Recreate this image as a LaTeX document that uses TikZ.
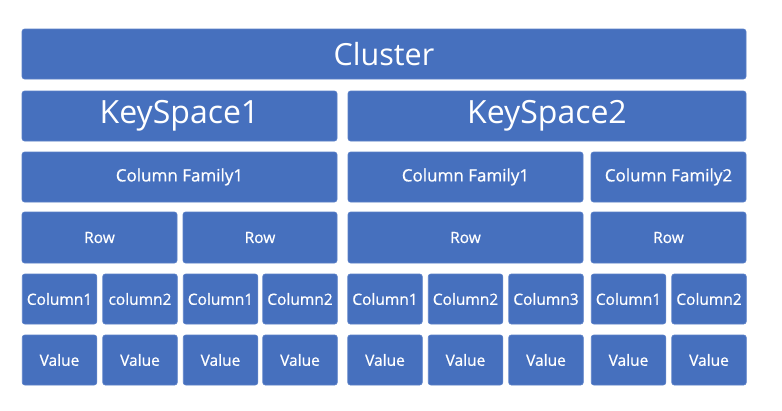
\documentclass[tikz,border=0pt]{standalone}
\usepackage{fontspec}
\setmainfont{Open Sans}
\newfontfamily\semifont[FakeBold=0.7]{Open Sans}
\definecolor{boxblue}{HTML}{4670BE}
\definecolor{boxedge}{HTML}{5A80C8}
\begin{document}
\begin{tikzpicture}[x=1pt,y=-1pt,
  box/.style={fill=boxblue,draw=boxedge,line width=0.6pt,rounded corners=2.5pt,inner sep=0pt,
    text=white,minimum height=50pt,align=center},
  big/.style={box,font=\fontsize{30.5}{34}\selectfont},
  bigger/.style={box,font=\fontsize{32}{35}\selectfont},
  mid/.style={box,font=\semifont\fontsize{17}{20}\selectfont},
  rowbox/.style={box,minimum height=51pt,font=\semifont\fontsize{15.5}{18}\selectfont},
  small/.style={box,minimum width=74.5pt,font=\semifont\fontsize{15.5}{18}\selectfont}]
\useasboundingbox (0,0) rectangle (782,410);
\fill[white] (0,0) rectangle (782,410);
% level 1
\node[big,minimum width=724pt] (cluster) at (384,54) {Cluster};
% level 2
\node[bigger,minimum width=315pt] (ks1) at (179.5,116) {KeySpace1};
\node[bigger,minimum width=398pt] (ks2) at (547,116) {KeySpace2};
% level 3
\node[mid,minimum width=315pt] (cfa) at (179.5,177) {Column Family1};
\node[mid,minimum width=235pt] (cfb) at (465.5,177) {Column Family1};
\node[mid,minimum width=155pt] (cfc) at (668.5,177) {Column Family2};
% level 4
\node[rowbox,minimum width=155pt] (rowa) at (99.5,237.5) {Row};
\node[rowbox,minimum width=154pt] (rowb) at (260,237.5) {Row};
\node[rowbox,minimum width=235pt] (rowc) at (465.5,237.5) {Row};
\node[rowbox,minimum width=155pt] (rowd) at (668.5,237.5) {Row};
% level 5
\node[small] (c1) at (59.5,299) {Column1};
\node[small] (c2) at (140,299) {column2};
\node[small] (c3) at (220.5,299) {Column1};
\node[small] (c4) at (300,299) {Column2};
\node[small] (c5) at (385,299) {Column1};
\node[small] (c6) at (465.5,299) {Column2};
\node[small] (c7) at (546,299) {Column3};
\node[small] (c8) at (628.5,299) {Column1};
\node[small] (c9) at (709,299) {Column2};
% level 6
\node[small] (v1) at (59.5,360) {Value};
\node[small] (v2) at (140,360) {Value};
\node[small] (v3) at (220.5,360) {Value};
\node[small] (v4) at (300,360) {Value};
\node[small] (v5) at (385,360) {Value};
\node[small] (v6) at (465.5,360) {Value};
\node[small] (v7) at (546,360) {Value};
\node[small] (v8) at (628.5,360) {Value};
\node[small] (v9) at (709,360) {Value};
\end{tikzpicture}
\end{document}
